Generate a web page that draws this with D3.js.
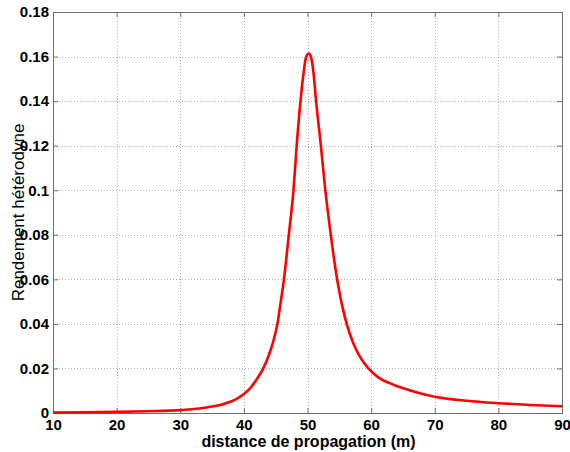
<!DOCTYPE html>
<html>
<head>
<meta charset="utf-8">
<script src="https://cdn.jsdelivr.net/npm/d3@7"></script>
<style>
  html, body { margin: 0; padding: 0; background: #fff; }
  svg { display: block; }
  text { font-family: "Liberation Sans", Arial, Helvetica, sans-serif; }
</style>
</head>
<body>
<svg id="chart" width="570" height="452"></svg>
<script>
// ---- data ----
const distance = [10, 15, 20, 25, 30, 33, 35, 37, 38.5, 40, 41, 42, 43, 44, 44.7, 45.27, 45.8, 46.3, 47.06, 47.8, 48.3, 48.9, 49.4, 49.8, 50.2, 50.55, 50.95, 51.35, 52.1, 52.8, 53.66, 54.1, 54.6, 55.1, 55.6, 56.16, 57.1, 58.14, 59.56, 61.13, 63.5, 65.06, 67.5, 70, 75, 80, 85, 90];
const rendement = [0.0002, 0.0003, 0.0005, 0.0008, 0.0013, 0.0020, 0.0029, 0.0042, 0.0058, 0.0085, 0.0112, 0.0150, 0.0198, 0.0265, 0.0330, 0.0400, 0.0500, 0.0600, 0.0800, 0.1000, 0.1200, 0.1400, 0.1530, 0.1600, 0.1614, 0.1598, 0.1525, 0.1400, 0.1200, 0.1000, 0.0800, 0.0705, 0.0610, 0.0530, 0.0463, 0.0400, 0.0320, 0.0257, 0.0200, 0.0160, 0.0127, 0.0111, 0.0090, 0.0073, 0.0055, 0.0044, 0.0036, 0.0030];
const xTicks = [10, 20, 30, 40, 50, 60, 70, 80, 90];
const yTicks = [0, 0.02, 0.04, 0.06, 0.08, 0.1, 0.12, 0.14, 0.16, 0.18];
const yTickLabels = ["0", "0.02", "0.04", "0.06", "0.08", "0.1", "0.12", "0.14", "0.16", "0.18"];
const xLabel = "distance de propagation (m)";
const yLabel = "Rendement hétérodyne";

// ---- layout ----
const mLeft = 53, mRight = 562, mTop = 12, mBottom = 413;
const svg = d3.select("#chart");

const x = d3.scaleLinear().domain([10, 90]).range([mLeft, mRight]);
const y = d3.scaleLinear().domain([0, 0.18]).range([mBottom, mTop]);

// grid
const grid = svg.append("g").attr("stroke", "#b4b4b4").attr("stroke-width", 1)
  .attr("stroke-dasharray", "1,2").attr("shape-rendering", "crispEdges");
grid.selectAll("line.v").data(xTicks.slice(1, -1)).enter().append("line")
  .attr("x1", d => Math.round(x(d)) + 0.5).attr("x2", d => Math.round(x(d)) + 0.5)
  .attr("y1", mTop).attr("y2", mBottom);
grid.selectAll("line.h").data(yTicks.slice(1, -1)).enter().append("line")
  .attr("y1", d => Math.round(y(d)) + 0.5).attr("y2", d => Math.round(y(d)) + 0.5)
  .attr("x1", mLeft).attr("x2", mRight);

// axes (inward ticks, MATLAB style)
const tickLen = 5;
const axisColor = "#6e6e6e";
const bottomAxis = d3.axisBottom(x).tickValues(xTicks).tickSize(-tickLen).tickPadding(6).tickFormat(d3.format("d"));
const topAxis = d3.axisTop(x).tickValues(xTicks).tickSize(-tickLen).tickFormat("");
const leftAxis = d3.axisLeft(y).tickValues(yTicks).tickSize(-tickLen).tickPadding(4)
  .tickFormat((d, i) => yTickLabels[i]);
const rightAxis = d3.axisRight(y).tickValues(yTicks).tickSize(-tickLen).tickFormat("");

function styleAxis(g) {
  g.select(".domain").attr("stroke", axisColor);
  g.selectAll(".tick line").attr("stroke", axisColor);
  g.selectAll(".tick text").attr("fill", "#000")
    .style("font-family", '"Liberation Sans", Arial, sans-serif')
    .style("font-size", "15px").style("font-weight", "bold");
}

svg.append("g").attr("transform", `translate(0,${mBottom})`).call(bottomAxis).call(styleAxis);
svg.append("g").attr("transform", `translate(0,${mTop})`).call(topAxis).call(styleAxis);
svg.append("g").attr("transform", `translate(${mLeft},0)`).call(leftAxis).call(styleAxis);
svg.append("g").attr("transform", `translate(${mRight},0)`).call(rightAxis).call(styleAxis);

// curve
const line = d3.line().x((d, i) => x(distance[i])).y((d, i) => y(rendement[i]))
  .curve(d3.curveMonotoneX);
svg.append("path").datum(rendement)
  .attr("fill", "none").attr("stroke", "#ff0000").attr("stroke-width", 2.6)
  .attr("stroke-linejoin", "round")
  .attr("d", line);

// labels
svg.append("text").attr("x", (mLeft + mRight) / 2 + 1).attr("y", 446.5)
  .attr("text-anchor", "middle").style("font-size", "16px").style("font-weight", "bold")
  .text(xLabel);

svg.append("text").attr("transform", `translate(24,${(mTop + mBottom) / 2}) rotate(-90)`)
  .attr("text-anchor", "middle").style("font-size", "17px")
  .text(yLabel);
</script>
</body>
</html>
